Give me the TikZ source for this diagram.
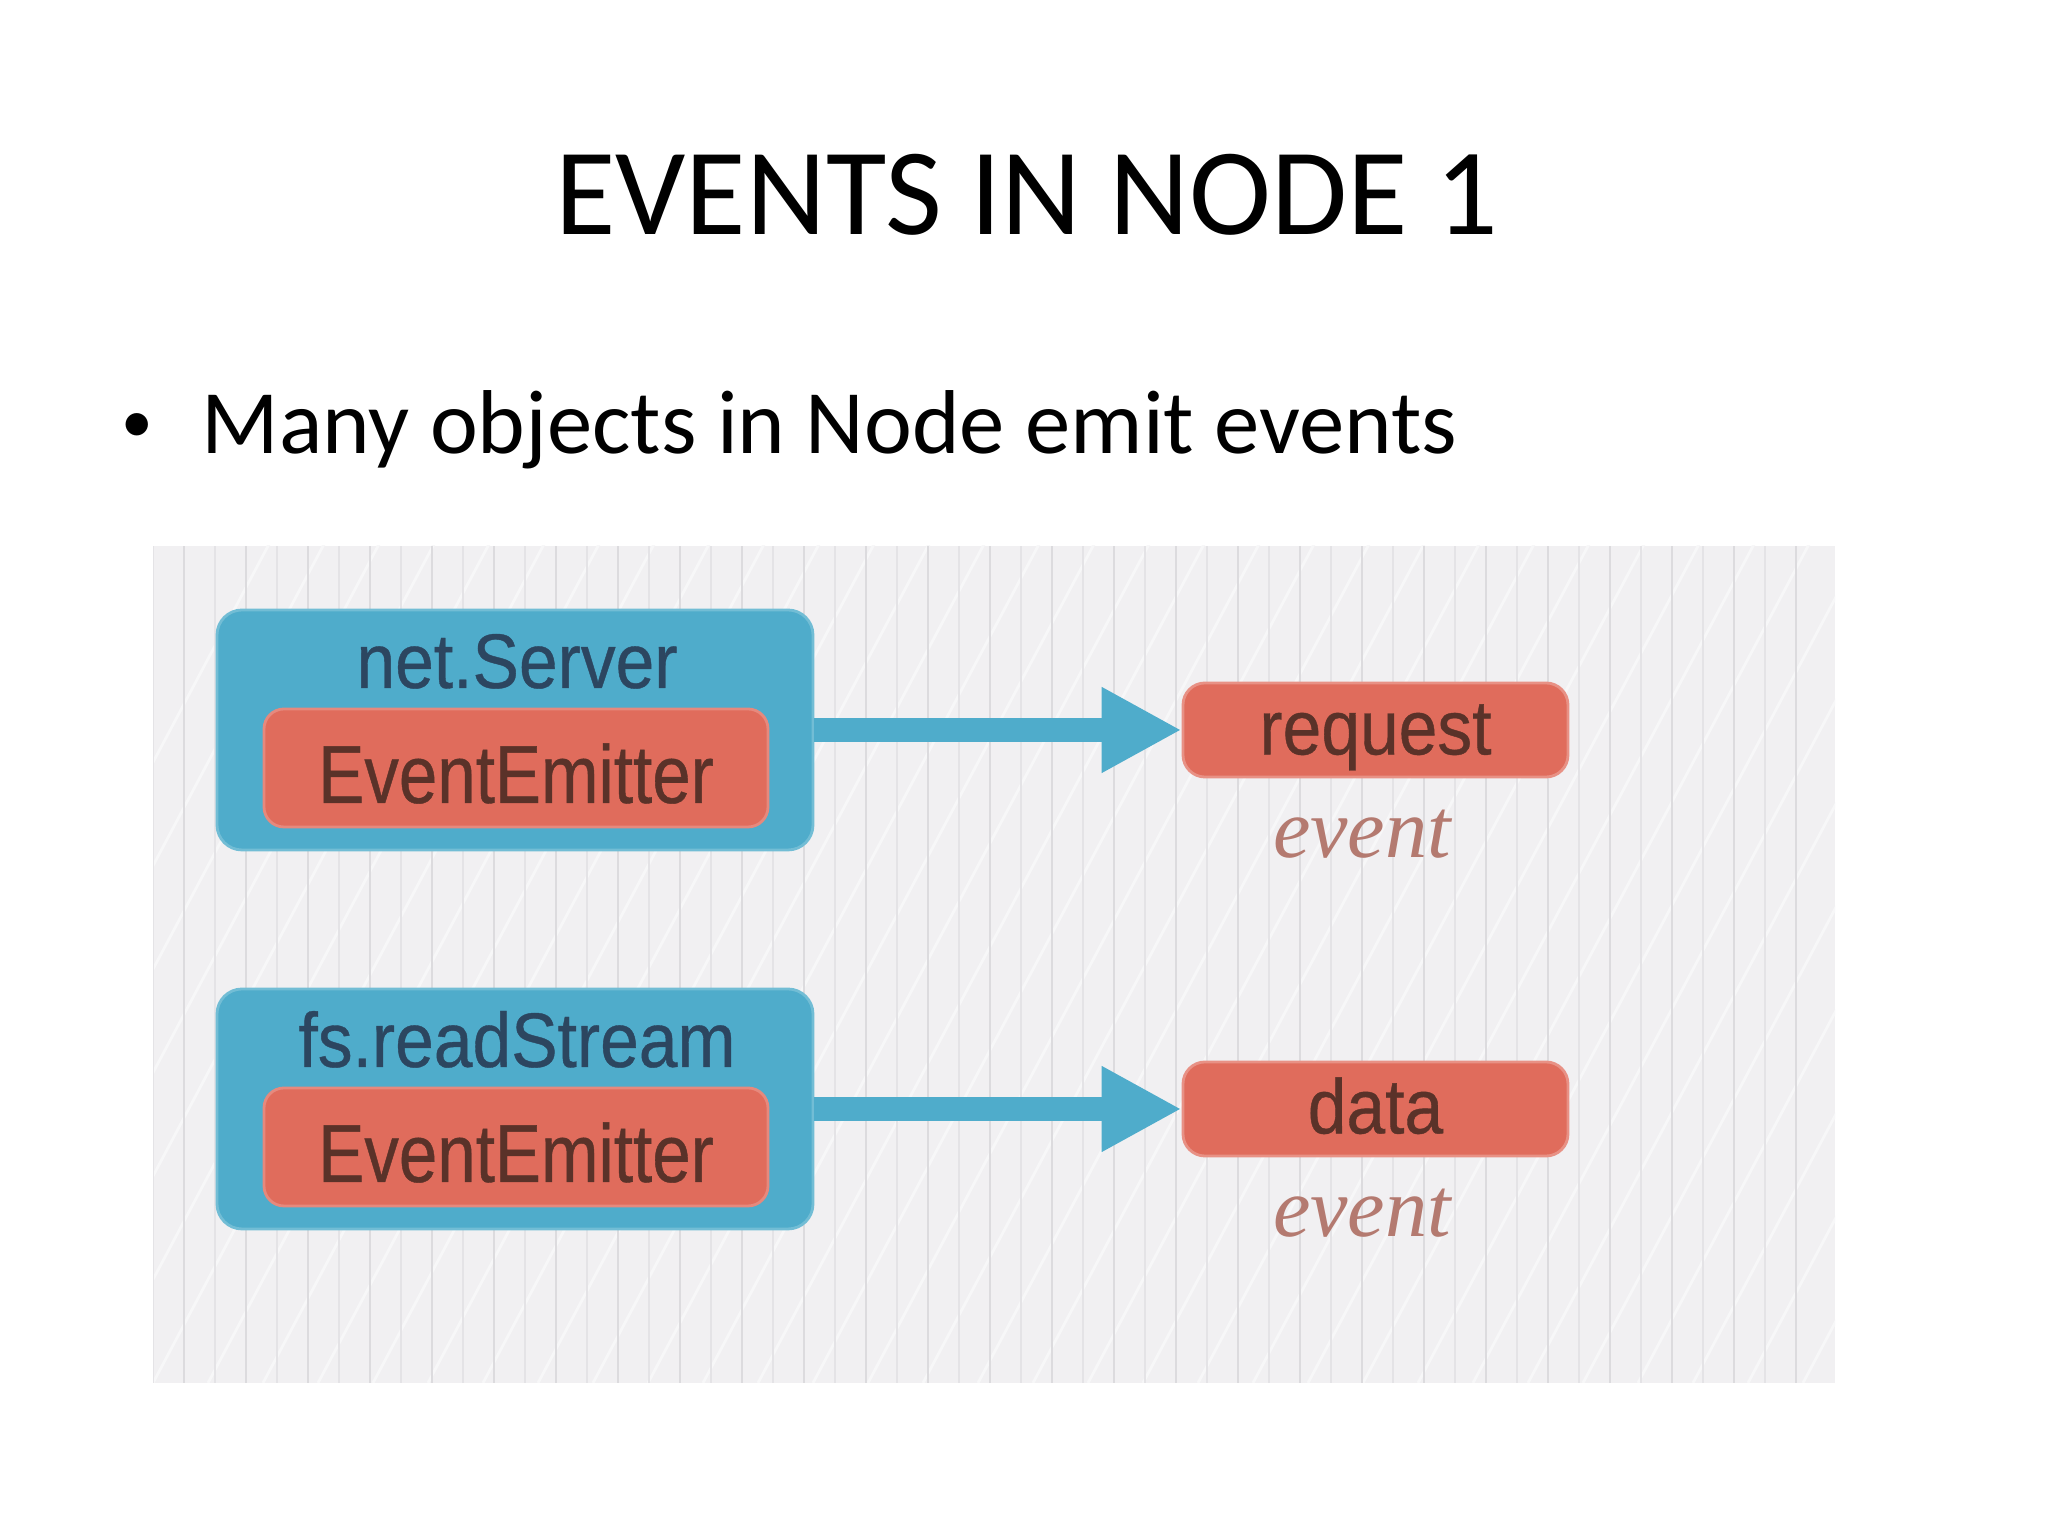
\documentclass[tikz,border=0pt]{standalone}
\usepackage{fontspec}
\setmainfont{Carlito}
\newfontfamily\boxfont[FakeStretch=0.9, FakeBold=0.5]{Liberation Sans}
\newfontfamily\narrowfont[FakeStretch=0.84, FakeBold=0.5]{Liberation Sans}
\newfontfamily\handfont{Liberation Serif}
\usetikzlibrary{arrows.meta}

\definecolor{boxblue}{HTML}{4FACCB}
\definecolor{boxred}{HTML}{E06C5C}
\definecolor{navytext}{HTML}{2C4660}
\definecolor{browntext}{HTML}{5A3229}
\definecolor{evtext}{HTML}{B47A70}
\definecolor{panelgray}{HTML}{F1F0F2}
\definecolor{linegray}{HTML}{DCDBDE}

\begin{document}
\begin{tikzpicture}[>={Triangle[length=0.8cm, width=0.8cm]},
  blue box/.style={
  % The shape:
  rectangle, rounded corners=0.25cm,
  % The size:
  minimum width=5.96cm, minimum height=2.40cm,
  % The border
  fill=boxblue, draw=boxblue!80!white, line width=0.8pt},
  red box/.style={
  rectangle, rounded corners=0.2cm,
  minimum width=5.04cm, minimum height=1.18cm,
  fill=boxred, draw=boxred!80!white, line width=0.8pt,
  text=browntext, text height=19.9pt, text depth=0pt,
  font=\narrowfont\fontsize{23.4}{28}\selectfont},
  event box/.style={
  rectangle, rounded corners=0.22cm,
  minimum width=3.85cm, minimum height=0.93cm,
  fill=boxred, draw=boxred!75!white, line width=0.8pt,
  text=browntext, text height=17pt, text depth=3.1pt,
  font=\boxfont\fontsize{22}{26}\selectfont},
  name text/.style={anchor=base, inner sep=0, text=navytext,
  font=\boxfont\fontsize{22}{26}\selectfont},
  hand text/.style={anchor=base, inner sep=0, text=evtext,
  font=\handfont\itshape\fontsize{24}{28}\selectfont},
  flow/.style={boxblue, line width=0.24cm}]

  \useasboundingbox (0,0) rectangle (20.48,15.36);
  \fill [white] (0,0) rectangle (20.48,15.36);

  % title and bullet
  \node [anchor=base, inner sep=0] (title) at (10.27,13.01)
    {\fontsize{35.2}{42}\selectfont EVENTS IN NODE 1};
  \node [anchor=base, inner sep=0] (dot) at (1.37,10.93)
    {\fontsize{18}{22}\selectfont\textbullet};
  \node [anchor=base west, inner sep=0] (point) at (2.01,10.82)
    {\fontsize{25.8}{30}\selectfont Many objects in Node emit events};

  % lined paper behind the diagram
  \fill [panelgray] (1.53,1.53) rectangle (18.35,9.90);
  \begin{scope}
    \clip (1.53,1.53) rectangle (18.35,9.90);
    \foreach \k in {-6,...,34}
      \draw [white!45!panelgray, line width=0.8pt] (1.53+0.55*\k,1.53) -- ++(62:9.5);
    \foreach \k in {0,...,26}
      \draw [linegray, line width=0.5pt] (1.84+0.62*\k,1.53) -- ++(0,8.37);
    \foreach \k in {0,...,26}
      \draw [linegray!60!panelgray, line width=0.4pt] (1.53+0.62*\k,1.53) -- ++(0,8.37);
  \end{scope}

  % net.Server
  \node [blue box] (srv1) at (5.15,8.06) {};
  \node [name text] (srvname1) at (5.17,8.48) {net.Server};
  \node [red box] (emit1) at (5.16,7.68) {EventEmitter};
  \node [event box] (req) at (13.755,8.06) {request};
  \node [hand text] (evt1) at (13.62,6.78) {event};
  \draw [flow, ->] (srv1.east) -- (req.west);

  % fs.readStream
  \node [blue box] (srv2) at (5.15,4.27) {};
  \node [name text] (srvname2) at (5.17,4.69) {fs.readStream};
  \node [red box] (emit2) at (5.16,3.89) {EventEmitter};
  \node [event box] (data) at (13.755,4.27) {data};
  \node [hand text] (evt2) at (13.62,2.99) {event};
  \draw [flow, ->] (srv2.east) -- (data.west);

\end{tikzpicture}
\end{document}
